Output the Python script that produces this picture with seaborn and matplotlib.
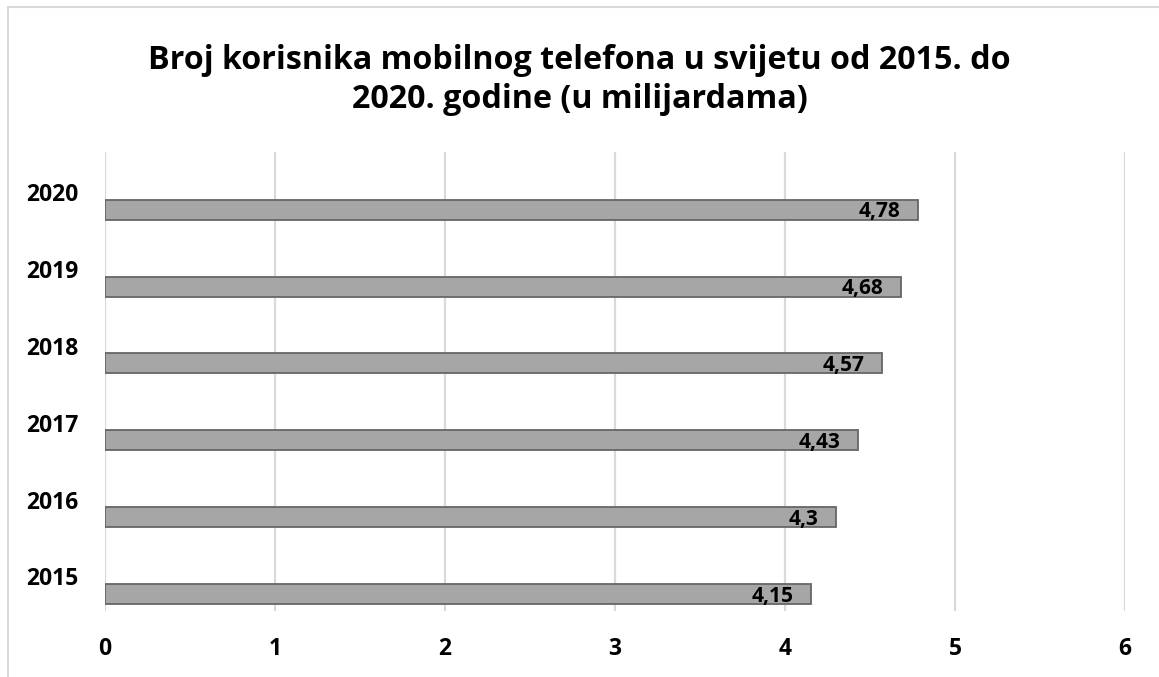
import numpy as np
import pandas as pd
import matplotlib
matplotlib.use("Agg")
import matplotlib.pyplot as plt
import seaborn as sns
from matplotlib.patches import Rectangle

years = ["2015", "2016", "2017", "2018", "2019", "2020"]
users = [4.15, 4.30, 4.43, 4.57, 4.68, 4.78]
title = "Broj korisnika mobilnog telefona u svijetu od 2015. do\n2020. godine (u milijardama)"
xticks = [0, 1, 2, 3, 4, 5, 6]

sns.set_theme(style="white")
plt.rcParams["font.family"] = ["Open Sans", "DejaVu Sans"]
plt.rcParams["font.weight"] = "bold"
plt.rcParams["text.color"] = "black"

df = pd.DataFrame({"year": years, "users": users})
order = years[::-1]

W, H = 1159, 677
fig = plt.figure(figsize=(W / 100, H / 100), dpi=100)
ax = fig.add_axes([105 / W, (H - 611) / H, (1125 - 105) / W, (611 - 152) / H])

sns.barplot(data=df, x="users", y="year", order=order, orient="h",
            color="#a6a6a6", width=0.26, saturation=1, ax=ax,
            edgecolor="#666666", linewidth=1.3, zorder=3)

ax.set_xlim(0, 6)
ax.set_ylim(5.22, -0.75)
ax.set_xticks(xticks)
ax.set_xticklabels([str(t) for t in xticks], fontsize=16.5, fontweight="bold")
ax.set_yticks(np.arange(len(order)) - 0.23)
ax.set_yticklabels(order, fontsize=16.5, fontweight="bold")
ax.tick_params(axis="x", length=0, pad=19, colors="black")
ax.tick_params(axis="y", length=0, pad=19, colors="black")
ax.grid(axis="x", color="#d9d9d9", linewidth=1.6, zorder=0)
ax.grid(axis="y", visible=False)
for s in ax.spines.values():
    s.set_visible(False)
ax.set_xlabel("")
ax.set_ylabel("")

for i, y in enumerate(order):
    v = users[years.index(y)]
    ax.annotate(f"{v:g}".replace(".", ","), xy=(v, i), xytext=(-12.5, -1.5),
                textcoords="offset points", ha="right", va="center",
                fontsize=15, fontweight="bold", color="black", zorder=4)

fig.text(0.5, (H - 80) / H, title, ha="center", va="center",
         fontsize=23.2, fontweight="bold", linespacing=1.22, color="black")

fig.patches.append(Rectangle((8 / W, -0.05), 1.2, (H - 7) / H + 0.05,
                             transform=fig.transFigure, fill=False,
                             edgecolor="#d9d9d9", linewidth=1.5))

fig.savefig("out.png", dpi=100)
